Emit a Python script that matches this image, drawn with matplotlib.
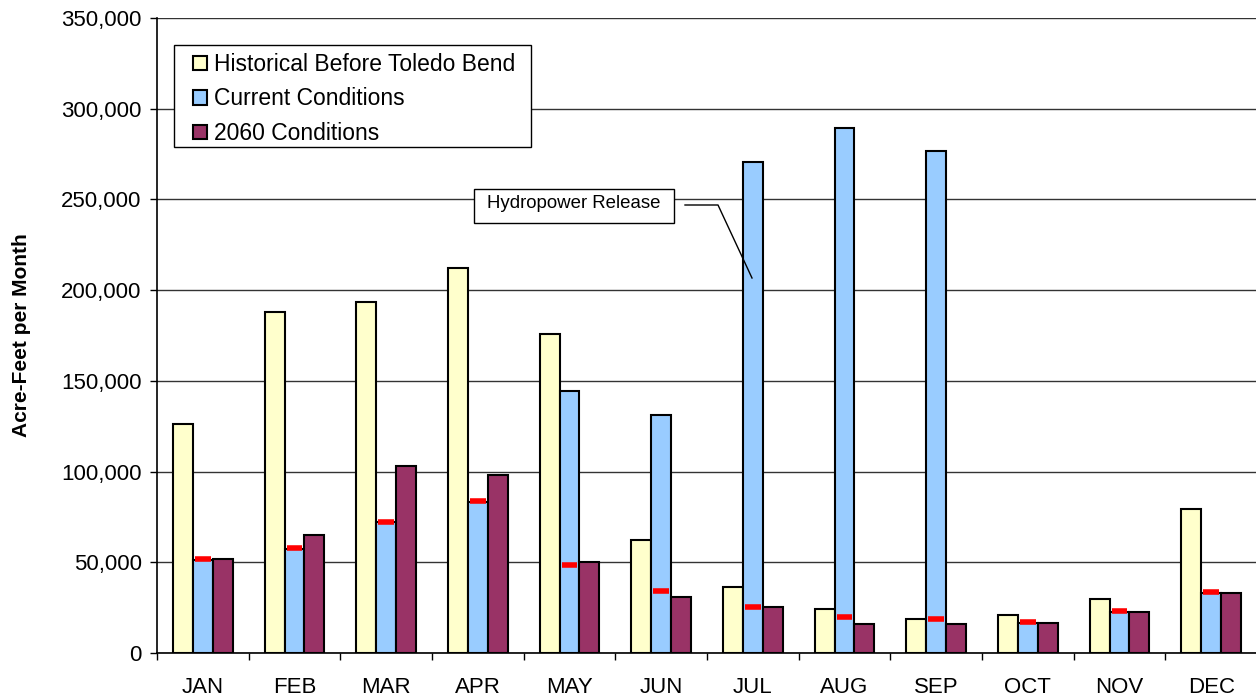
import matplotlib
matplotlib.use("Agg")
import matplotlib.pyplot as plt
import numpy as np
from matplotlib.ticker import FuncFormatter, MultipleLocator
from matplotlib.patches import Rectangle

plt.rcParams['font.family'] = ['Liberation Sans', 'DejaVu Sans']

months = ["JAN", "FEB", "MAR", "APR", "MAY", "JUN", "JUL", "AUG", "SEP", "OCT", "NOV", "DEC"]
historical = [126000, 188000, 193500, 212200, 175800, 62200, 36500, 24000, 18700, 21000, 29500, 79500]
current = [51500, 57500, 72000, 83500, 144300, 131200, 270600, 289500, 276500, 16500, 22500, 33200]
conditions_2060 = [51700, 65300, 102800, 98000, 50000, 30800, 25500, 16000, 16000, 16800, 22600, 33200]
red_markers = [52000, 58000, 72300, 83600, 48700, 34000, 25200, 19900, 19000, 16900, 23000, 33500]
series_names = ["Historical Before Toledo Bend", "Current Conditions", "2060 Conditions"]
colors = ["#FFFFCC", "#99CCFF", "#993366"]

W, H = 1256, 700
fig = plt.figure(figsize=(W / 100, H / 100), dpi=100)
ax = fig.add_axes([157 / W, 47 / H, 1100 / W, 635 / H])

x = np.arange(len(months))
w = 0.218
for i, (vals, name, col) in enumerate(zip([historical, current, conditions_2060], series_names, colors)):
    ax.bar(x + (i - 1) * w, vals, width=w, color=col, edgecolor="black", linewidth=1.5,
           label=name, zorder=3)

ax.hlines(red_markers, x - 0.085, x + 0.085, colors="#FF0000", linewidth=4, zorder=4)

ax.set_xlim(-0.5, len(months) - 0.5)
ax.set_ylim(0, 350000)
ax.yaxis.set_major_locator(MultipleLocator(50000))
ax.yaxis.set_major_formatter(FuncFormatter(lambda v, p: f"{int(v):,}"))
ax.grid(axis="y", color="#333333", linewidth=1.0, zorder=0)
ax.set_xticks(x)
ax.set_xticklabels(months)
ax.set_xticks(np.arange(-0.5, len(months), 1.0), minor=True)
ax.tick_params(axis="x", which="major", length=0, pad=17, labelsize=16)
ax.tick_params(axis="x", which="minor", length=5, width=1.0, direction="out")
ax.tick_params(axis="y", length=5, width=1.0, pad=6, labelsize=16)
for s in ["top", "right"]:
    ax.spines[s].set_visible(False)
ax.spines["left"].set_linewidth(1.2)
ax.spines["bottom"].set_linewidth(1.2)

ax.set_ylabel("Acre-Feet per Month", fontsize=15, fontweight="bold", labelpad=22)

# Legend with a custom frame
def fig_px(px, py):
    return px / W, 1 - py / H

lx, ly = fig_px(174, 147)
ax.add_patch(Rectangle((lx, ly), (531 - 174) / W, (147 - 45) / H, transform=fig.transFigure,
                       facecolor="white", edgecolor="black", linewidth=1.0, zorder=9))
leg = ax.legend(loc="upper left", bbox_to_anchor=((193 - 157) / 1100, (653 - 53) / 635), fontsize=16.5,
                frameon=False, handlelength=0.6, handleheight=0.6, handletextpad=0.3,
                borderpad=0, labelspacing=0.5, borderaxespad=0)
leg.set_zorder(10)

# Hydropower annotation
def px_to_data(px, py):
    return ((px - 157) / (1100 / 12) - 0.5, (653 - py) / 635 * 350000)

p1 = px_to_data(685, 205)
p2 = px_to_data(718, 205)
p3 = px_to_data(752, 278)
ax.plot([p1[0], p2[0], p3[0]], [p1[1], p2[1], p3[1]], color="black", linewidth=1.0, zorder=6)
bx, by = fig_px(474, 223)
ax.add_patch(Rectangle((bx, by), (674 - 474) / W, (223 - 189) / H, transform=fig.transFigure,
                       facecolor="white", edgecolor="black", linewidth=1.0, zorder=7))
tx, ty = px_to_data(574, 203)
ax.text(tx, ty, "Hydropower Release", fontsize=13.4, ha="center", va="center", zorder=8)

fig.savefig("out.png", dpi=100)
